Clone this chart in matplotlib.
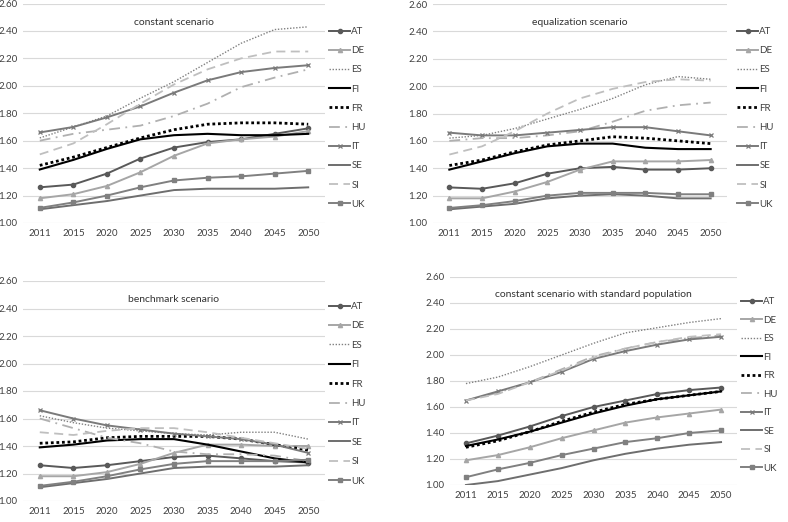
import matplotlib
matplotlib.use('Agg')
import matplotlib.pyplot as plt

plt.rcParams['font.family'] = ['Lato', 'DejaVu Sans']

years = ['2011', '2015', '2020', '2025', '2030', '2035', '2040', '2045', '2050']
countries = ['AT', 'DE', 'ES', 'FI', 'FR', 'HU', 'IT', 'SE', 'SI', 'UK']

# constant scenario
constant = {
    'AT': [1.26, 1.28, 1.36, 1.47, 1.55, 1.59, 1.61, 1.65, 1.69],
    'DE': [1.18, 1.21, 1.27, 1.37, 1.49, 1.58, 1.61, 1.63, 1.67],
    'ES': [1.62, 1.70, 1.78, 1.91, 2.03, 2.17, 2.31, 2.41, 2.43],
    'FI': [1.39, 1.46, 1.54, 1.61, 1.64, 1.65, 1.64, 1.64, 1.65],
    'FR': [1.42, 1.48, 1.55, 1.62, 1.68, 1.72, 1.73, 1.73, 1.72],
    'HU': [1.60, 1.65, 1.68, 1.71, 1.78, 1.87, 1.99, 2.06, 2.12],
    'IT': [1.66, 1.70, 1.77, 1.85, 1.95, 2.04, 2.10, 2.13, 2.15],
    'SE': [1.10, 1.13, 1.16, 1.20, 1.24, 1.25, 1.25, 1.25, 1.26],
    'SI': [1.50, 1.58, 1.72, 1.87, 2.01, 2.12, 2.20, 2.25, 2.25],
    'UK': [1.11, 1.15, 1.20, 1.26, 1.31, 1.33, 1.34, 1.36, 1.38],
}

# equalization scenario
equalization = {
    'AT': [1.26, 1.25, 1.29, 1.36, 1.40, 1.41, 1.39, 1.39, 1.40],
    'DE': [1.18, 1.18, 1.23, 1.30, 1.39, 1.45, 1.45, 1.45, 1.46],
    'ES': [1.62, 1.64, 1.69, 1.76, 1.83, 1.91, 2.01, 2.07, 2.05],
    'FI': [1.39, 1.45, 1.51, 1.56, 1.58, 1.58, 1.55, 1.54, 1.54],
    'FR': [1.42, 1.46, 1.52, 1.57, 1.60, 1.63, 1.62, 1.60, 1.58],
    'HU': [1.60, 1.62, 1.62, 1.64, 1.67, 1.74, 1.82, 1.86, 1.88],
    'IT': [1.66, 1.64, 1.64, 1.66, 1.68, 1.70, 1.70, 1.67, 1.64],
    'SE': [1.10, 1.12, 1.14, 1.18, 1.20, 1.21, 1.20, 1.18, 1.18],
    'SI': [1.50, 1.56, 1.67, 1.80, 1.91, 1.98, 2.03, 2.05, 2.04],
    'UK': [1.11, 1.13, 1.16, 1.20, 1.22, 1.22, 1.22, 1.21, 1.21],
}

# benchmark scenario
benchmark = {
    'AT': [1.26, 1.24, 1.26, 1.29, 1.32, 1.33, 1.31, 1.29, 1.28],
    'DE': [1.18, 1.18, 1.21, 1.27, 1.35, 1.41, 1.41, 1.40, 1.40],
    'ES': [1.62, 1.57, 1.53, 1.51, 1.49, 1.48, 1.50, 1.50, 1.45],
    'FI': [1.39, 1.41, 1.44, 1.45, 1.45, 1.41, 1.36, 1.31, 1.28],
    'FR': [1.42, 1.43, 1.46, 1.47, 1.47, 1.47, 1.45, 1.41, 1.37],
    'HU': [1.60, 1.53, 1.46, 1.42, 1.36, 1.34, 1.34, 1.33, 1.29],
    'IT': [1.66, 1.60, 1.55, 1.52, 1.49, 1.47, 1.45, 1.41, 1.35],
    'SE': [1.10, 1.13, 1.16, 1.20, 1.24, 1.25, 1.25, 1.25, 1.26],
    'SI': [1.50, 1.48, 1.51, 1.53, 1.53, 1.50, 1.46, 1.42, 1.38],
    'UK': [1.11, 1.14, 1.18, 1.23, 1.27, 1.29, 1.29, 1.29, 1.30],
}

# constant scenario with standard population
standard = {
    'AT': [1.32, 1.38, 1.45, 1.53, 1.60, 1.65, 1.70, 1.73, 1.75],
    'DE': [1.19, 1.23, 1.29, 1.36, 1.42, 1.48, 1.52, 1.55, 1.58],
    'ES': [1.78, 1.83, 1.91, 2.00, 2.09, 2.17, 2.21, 2.25, 2.28],
    'FI': [1.30, 1.35, 1.41, 1.48, 1.55, 1.61, 1.66, 1.69, 1.72],
    'FR': [1.29, 1.34, 1.41, 1.49, 1.56, 1.62, 1.66, 1.69, 1.72],
    'HU': [1.65, 1.71, 1.79, 1.89, 1.99, 2.05, 2.10, 2.13, 2.15],
    'IT': [1.65, 1.72, 1.79, 1.87, 1.97, 2.03, 2.08, 2.12, 2.14],
    'SE': [1.00, 1.03, 1.08, 1.13, 1.19, 1.24, 1.28, 1.31, 1.33],
    'SI': [1.65, 1.70, 1.79, 1.88, 1.98, 2.05, 2.10, 2.14, 2.16],
    'UK': [1.06, 1.12, 1.17, 1.23, 1.28, 1.33, 1.36, 1.40, 1.42],
}

styles = {
    'AT': dict(color='#595959', ls='-', lw=1.4, marker='o', ms=3),
    'DE': dict(color='#a6a6a6', ls='-', lw=1.4, marker='^', ms=3),
    'ES': dict(color='#808080', ls=(0, (1, 1.2)), lw=1.0),
    'FI': dict(color='#000000', ls='-', lw=1.5),
    'FR': dict(color='#000000', ls=(0, (1, 1)), lw=2.0),
    'HU': dict(color='#b0b0b0', ls=(0, (6, 3, 1, 3)), lw=1.3),
    'IT': dict(color='#7a7a7a', ls='-', lw=1.4, marker='x', ms=3.5, mew=0.9),
    'SE': dict(color='#6e6e6e', ls='-', lw=1.4),
    'SI': dict(color='#bfbfbf', ls=(0, (5, 3)), lw=1.3),
    'UK': dict(color='#808080', ls='-', lw=1.4, marker='s', ms=3),
}

W, H = 788, 522
fig = plt.figure(figsize=(W / 100, H / 100), dpi=100)


def px_axes(left, top, right, bottom):
    return fig.add_axes([left / W, 1 - bottom / H, (right - left) / W, (bottom - top) / H])


panels = [
    (constant, 'constant scenario', (23, 3.5, 325, 223), (329, 27), 1.05),
    (equalization, 'equalization scenario', (433, 4, 727, 223), (737, 27), 1.05),
    (benchmark, 'benchmark scenario', (23, 281, 325, 501), (329, 302), 1.07),
    (standard, 'constant scenario with standard population', (450, 277, 737, 485), (741, 297), 0.98),
]

for data, title, box, legpos, spacing in panels:
    ax = px_axes(*box)
    x = range(len(years))
    for c in countries:
        ax.plot(x, data[c], label=c, **styles[c])
    ax.set_xlim(-0.5, len(years) - 0.5)
    ax.set_ylim(1.0, 2.6)
    ax.set_yticks([1.0, 1.2, 1.4, 1.6, 1.8, 2.0, 2.2, 2.4, 2.6])
    ax.set_yticklabels(['%.2f' % v for v in ax.get_yticks()])
    ax.set_xticks(list(x))
    ax.set_xticklabels(years)
    ax.tick_params(length=0, labelsize=7, colors='#404040', pad=4)
    ax.grid(axis='y', color='#d9d9d9', lw=0.8)
    ax.set_axisbelow(True)
    for s in ax.spines.values():
        s.set_visible(False)
    ax.text(0.5, 0.915, title, transform=ax.transAxes, ha='center', va='center',
            fontsize=7.5, color='#333333')
    ax.legend(loc='upper left', bbox_to_anchor=(legpos[0] / W, 1 - legpos[1] / H),
              bbox_transform=fig.transFigure, frameon=False, fontsize=7,
              labelspacing=spacing, handlelength=2.2, handletextpad=0.1,
              borderpad=0, borderaxespad=0, numpoints=1, labelcolor='#404040')

fig.savefig('out.png', dpi=100)
